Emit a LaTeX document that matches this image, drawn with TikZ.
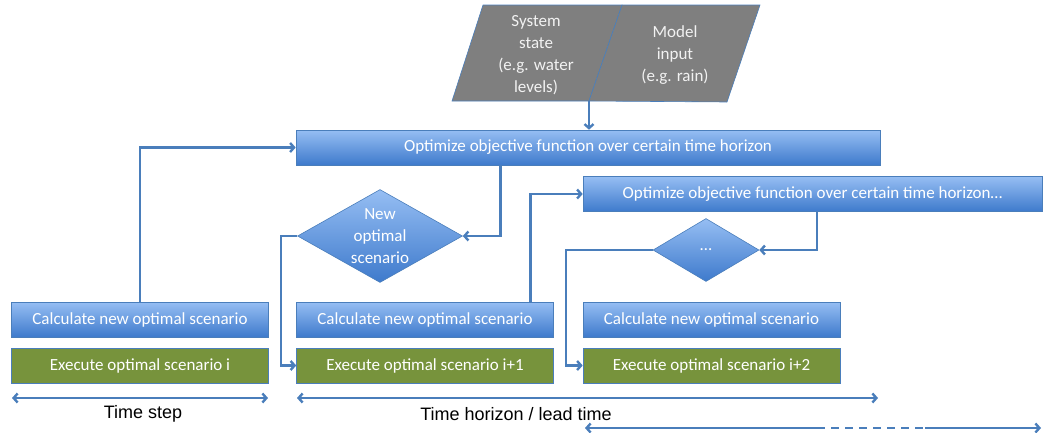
\documentclass[tikz,border=0pt]{standalone}
\usepackage{fontspec}
\setmainfont{Carlito}
\newfontfamily\axisfont{Liberation Sans}
\usetikzlibrary{calc,shapes.geometric,arrows.meta}

\definecolor{flowblue}{RGB}{74,126,187}
\definecolor{boxtop}{RGB}{150,190,243}
\definecolor{boxbottom}{RGB}{62,122,204}
\definecolor{execgreen}{RGB}{119,147,60}
\definecolor{inputgray}{RGB}{127,127,127}

\begin{document}
\begin{tikzpicture}[x=1pt,y=-1pt,
    every node/.style={font=\fontsize{17}{22}\selectfont},
    bluebox/.style={draw=flowblue, line width=0.6pt, top color=boxtop, bottom color=boxbottom,
      text=white, minimum height=35pt, inner sep=0pt},
    execbox/.style={draw=flowblue, line width=0.6pt, fill=execgreen, text=white,
      minimum width=257pt, minimum height=35pt, inner sep=0pt},
    decision/.style={diamond, draw=flowblue, line width=0.6pt, top color=boxtop,
      bottom color=boxbottom, inner sep=0pt},
    flow/.style={draw=flowblue, line width=2.4pt, -{Straight Barb[length=4pt,width=9pt]}},
    span/.style={draw=flowblue, line width=2.4pt,
      {Straight Barb[length=4pt,width=9pt]}-{Straight Barb[length=4pt,width=9pt]}},
  ]
    \useasboundingbox (0,0) rectangle (1043,432);
    \coordinate (split) at (589,101);
    \coordinate (splittop) at (622,5);
    % inputs
    \filldraw[fill=inputgray, draw=flowblue, line width=0.6pt]
    (483,5) -- (splittop) -- (split) -- (452,101) -- cycle;
    \filldraw[fill=inputgray, draw=flowblue, line width=0.6pt]
    (splittop) -- (760,5) -- (727,102) -- (split) -- cycle;
    \node[text=white!95!black, align=center] (sysstate) at (536,55) {System\\state\\(e.g. water\\levels)};
    \node[text=white!95!black, align=center] (modelin) at (675,55) {Model\\input\\(e.g. rain)};
    % optimisation steps
    \node[bluebox, minimum width=584pt] (opt1) at (588,147.5) {Optimize objective function over certain time horizon};
    \node[bluebox, minimum width=459pt] (opt2) at (812.5,194) {Optimize objective function over certain time horizon…};
    \node[decision, minimum width=165pt, minimum height=93pt,
      label={[text=white, align=center]center:{New\\optimal\\scenario}}] (dia1) at (380,236) {};
    \node[decision, minimum width=106pt, minimum height=63pt,
      label={[text=white]center:…}] (dia2) at (706,250) {};
    % scenarios
    \node[bluebox, minimum width=257pt] (calc1) at (140,319.5) {Calculate new optimal scenario};
    \node[bluebox, minimum width=257pt] (calc2) at (425,319.5) {Calculate new optimal scenario};
    \node[bluebox, minimum width=257pt] (calc3) at (711.5,319.5) {Calculate new optimal scenario};
    \node[execbox] (exec1) at (140,365.5) {Execute optimal scenario i};
    \node[execbox] (exec2) at (425,365.5) {Execute optimal scenario i+1};
    \node[execbox] (exec3) at (711.5,365.5) {Execute optimal scenario i+2};
    % flow
    \draw[flow] (split) -- (split |- opt1.north);
    \draw[flow] (calc1.north) |- (opt1.west);
    \draw[flow] ($(opt1.south west)!0.35!(opt1.south east)$) |- (dia1.east);
    \draw[flow] (dia1.west) -- ++(-16,0) |- (exec2.west);
    \draw[flow] ($(calc2.north west)!0.91!(calc2.north east)$) |- (opt2.west);
    \draw[flow] ($(opt2.south west)!0.51!(opt2.south east)$) |- (dia2.east);
    \draw[flow] (dia2.west) -- ++(-87,0) |- (exec3.west);
    % time axes
    \coordinate (ts1) at (12,398);
    \coordinate (ts2) at (268,398);
    \coordinate (th1) at (297,398);
    \coordinate (th2) at (878,398);
    \coordinate (lt1) at (585,428);
    \coordinate (lt2) at (825,428);
    \coordinate (lt3) at (925,428);
    \coordinate (lt4) at (1041,428);
    \draw[span] (ts1) -- (ts2);
    \draw[span] (th1) -- (th2);
    \draw[flowblue, line width=2.4pt, {Straight Barb[length=4pt,width=9pt]}-] (lt1) -- (lt2);
    \draw[flowblue, line width=2.4pt, dash pattern=on 8pt off 6pt, dash phase=-6pt] (lt2) -- (lt3);
    \draw[flowblue, line width=2.4pt, -{Straight Barb[length=4pt,width=9pt]}] (lt3) -- (lt4);
    \node[font=\axisfont\fontsize{18}{20}\selectfont] (steplbl) at (143,414) {Time step};
    \node[font=\axisfont\fontsize{18}{20}\selectfont] (horizonlbl) at (516,414) {Time horizon / lead time};
\end{tikzpicture}
\end{document}
